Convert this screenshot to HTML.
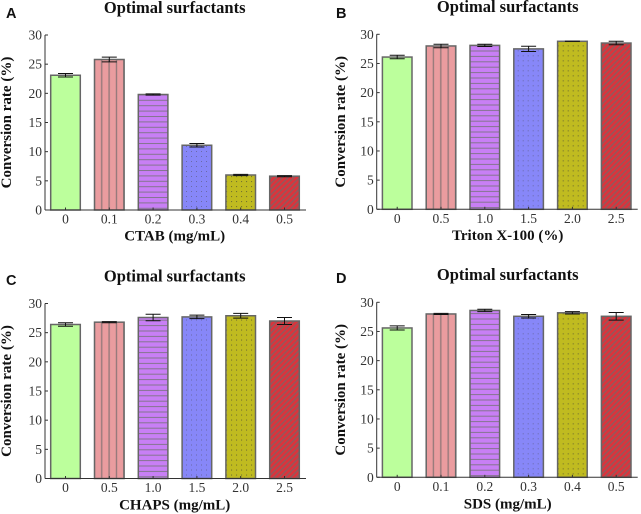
<!DOCTYPE html>
<html lang="en">
<head>
<meta charset="utf-8">
<title>Optimal surfactants</title>
<style>
html,body{margin:0;padding:0;background:#fff;width:641px;height:514px;overflow:hidden}
svg{display:block;position:absolute;left:0;top:0;filter:blur(0.3px)}
text{font-family:"Liberation Serif",serif;fill:#2a2a2a}
.title{font-weight:bold;font-size:16.5px;fill:#111;text-anchor:middle}
.axt{font-weight:bold;font-size:15px;fill:#111;text-anchor:middle}
.tick{font-size:13.5px;fill:#333}
.letter{font-family:"Liberation Sans",sans-serif;font-weight:bold;font-size:14.5px;fill:#111}
</style>
</head>
<body>
<svg id="chart" width="641" height="514" viewBox="0 0 641 514" xmlns="http://www.w3.org/2000/svg">
<defs>
<pattern id="p-vert" patternUnits="userSpaceOnUse" width="7.4" height="7">
<rect width="7.4" height="7" fill="#ea9c9f"/><rect x="4.2" y="0" width="1.4" height="7" fill="#967a7b"/>
</pattern>
<pattern id="p-horiz" patternUnits="userSpaceOnUse" width="10.6" height="5.4">
<rect width="10.6" height="5.4" fill="#c87ff5"/><rect x="0" y="0" width="10.6" height="1" fill="#857590"/>
</pattern>
<pattern id="p-dots-blue" patternUnits="userSpaceOnUse" width="5" height="5">
<rect width="5" height="5" fill="#8787f8"/><rect x="1" y="1" width="1" height="1" fill="#6a6aa8"/>
</pattern>
<pattern id="p-dots-olive" patternUnits="userSpaceOnUse" width="5" height="5">
<rect width="5" height="5" fill="#c0bb20"/><rect x="1" y="1" width="1.1" height="1.1" fill="#77742c"/>
</pattern>
<pattern id="p-diag" patternUnits="userSpaceOnUse" width="4" height="4" patternTransform="rotate(45)">
<rect width="4" height="4" fill="#da343c"/><rect x="0" y="0" width="1.4" height="4" fill="#8f5a5d"/>
</pattern>
</defs>
</svg>
<script>
// Chart data
const tickLabels = ["0", "5", "10", "15", "20", "25", "30"];
const tickValues = [0, 5, 10, 15, 20, 25, 30];
const categoriesA = ["0", "0.1", "0.2", "0.3", "0.4", "0.5"];
const categoriesB = ["0", "0.5", "1.0", "1.5", "2.0", "2.5"];
const categoriesC = ["0", "0.5", "1.0", "1.5", "2.0", "2.5"];
const categoriesD = ["0", "0.1", "0.2", "0.3", "0.4", "0.5"];
const valuesA = [23.1, 25.8, 19.8, 11.1, 6.0, 5.8];
const valuesB = [26.1, 28.0, 28.1, 27.5, 28.8, 28.5];
const valuesC = [26.4, 26.8, 27.6, 27.7, 27.9, 27.0];
const valuesD = [25.6, 28.0, 28.6, 27.6, 28.2, 27.6];
const errorsA = [0.3, 0.4, 0.1, 0.3, 0.1, 0.1];
const errorsB = [0.3, 0.3, 0.2, 0.45, 0.02, 0.3];
const errorsC = [0.3, 0.1, 0.55, 0.3, 0.4, 0.6];
const errorsD = [0.35, 0.1, 0.2, 0.3, 0.2, 0.65];

const NS = "http://www.w3.org/2000/svg";
const root = document.getElementById("chart");
const fills = ["#bcff9c", "url(#p-vert)", "url(#p-horiz)", "url(#p-dots-blue)", "url(#p-dots-olive)", "url(#p-diag)"];
const plotH = 175, plotW = 261, barW = 29.6, barStep = 43.8, firstCenter = 20.5;

function make(tag, attrs, parent, text) {
  const el = document.createElementNS(NS, tag);
  for (const k in attrs) el.setAttribute(k, attrs[k]);
  if (text !== undefined) el.textContent = text;
  parent.appendChild(el);
  return el;
}
function yScale(v) { return plotH - v / 30 * plotH; }
function xScale(i) { return firstCenter + i * barStep; }

function drawPanel(p) {
  const g = make("g", { transform: "translate(" + p.x + "," + p.y + ")" }, root);
  
  

  const letter = make("text", { x: p.letterX - p.x, y: p.letterY - p.y, class: "letter" }, g, p.id);
  
  

  const title = make("text", { x: p.cx - p.x, y: p.titleY - p.y, class: "title" }, g, "Optimal surfactants");
  
  

  p.values.forEach(function (v, i) {
    const top = yScale(v);
    const bar = make("rect", {
      x: xScale(i) - barW / 2, y: top, width: barW, height: plotH - top,
      fill: fills[i], stroke: "#666", "stroke-width": 1.5
    }, g);
    
    

    const e = p.errors[i];
    const cx = xScale(i);
    const err = make("path", {
      d: "M" + (cx - 7.5) + " " + yScale(v + e) + "H" + (cx + 7.5) +
         "M" + (cx - 7.5) + " " + yScale(v - e) + "H" + (cx + 7.5) +
         "M" + cx + " " + yScale(v + e) + "V" + yScale(v - e),
      stroke: "#111", "stroke-width": 1, fill: "none"
    }, g);
    
    

    const xt = make("line", { x1: cx, x2: cx, y1: plotH, y2: plotH - 2.5, stroke: "#333", "stroke-width": 1 }, g);
    
    

    const xl = make("text", { x: cx, y: plotH + 13.5, class: "tick", "text-anchor": "middle" }, g, p.categories[i]);
    
    
  });

  const axisY = make("line", { x1: 0, x2: 0, y1: 0, y2: plotH, stroke: "#333", "stroke-width": 1 }, g);
  
  

  const axisX = make("line", { x1: 0, x2: plotW, y1: plotH, y2: plotH, stroke: "#333", "stroke-width": 1 }, g);
  
  

  tickValues.forEach(function (t, i) {
    const yt = make("line", { x1: 0, x2: 3, y1: yScale(t), y2: yScale(t), stroke: "#333", "stroke-width": 1 }, g);
    
    

    const yl = make("text", { x: -3, y: yScale(t) + 4.5, class: "tick", "text-anchor": "end" }, g, tickLabels[i]);
    
    
  });

  const xTitle = make("text", { x: p.cx - p.x, y: p.xTitleY - p.y, class: "axt" }, g, p.xTitle);
  
  

  const yTitle = make("text", {
    class: "axt",
    transform: "translate(" + (p.yTitleX - p.x) + "," + (plotH / 2) + ") rotate(-90)"
  }, g, "Conversion rate (%)");
  
  
}

drawPanel({ id: "A", x: 45, y: 35, cx: 174.7, letterX: 6, letterY: 18, titleY: 13, xTitleY: 240.5, yTitleX: 11,
  xTitle: "CTAB (mg/mL)", categories: categoriesA, values: valuesA, errors: errorsA });
drawPanel({ id: "B", x: 376.7, y: 34.3, cx: 507.7, letterX: 336, letterY: 18, titleY: 12, xTitleY: 240, yTitleX: 345,
  xTitle: "Triton X-100 (%)", categories: categoriesB, values: valuesB, errors: errorsB });
drawPanel({ id: "C", x: 45, y: 303.5, cx: 174.7, letterX: 6, letterY: 285, titleY: 281.5, xTitleY: 509.5, yTitleX: 11,
  xTitle: "CHAPS (mg/mL)", categories: categoriesC, values: valuesC, errors: errorsC });
drawPanel({ id: "D", x: 376.7, y: 302.3, cx: 507.7, letterX: 336, letterY: 283, titleY: 280, xTitleY: 508.5, yTitleX: 345,
  xTitle: "SDS (mg/mL)", categories: categoriesD, values: valuesD, errors: errorsD });
</script>
</body>
</html>
